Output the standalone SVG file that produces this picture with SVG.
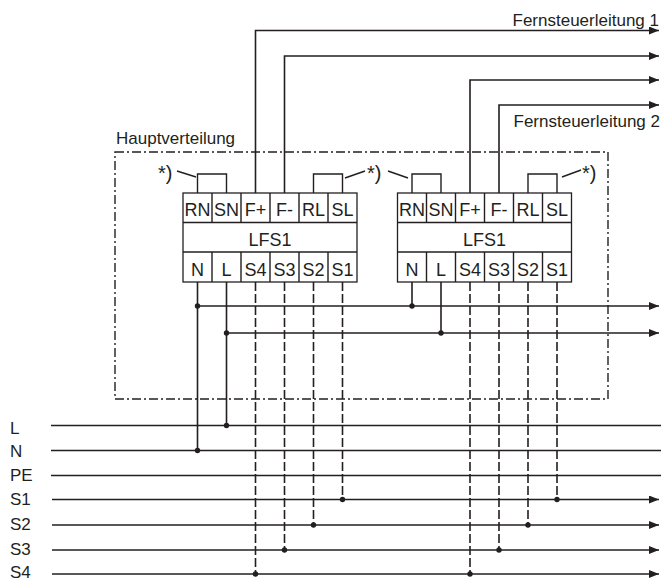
<svg xmlns="http://www.w3.org/2000/svg" width="661" height="581" viewBox="0 0 661 581">
<style>
text{font-family:"Liberation Sans",Arial,sans-serif;fill:#231f20}
.lbl{font-size:17px}
.note{font-size:20px}
.cell{font-size:18px;text-anchor:middle}
.box{fill:#fff;stroke:#231f20;stroke-width:1.3}
.w{fill:none;stroke:#231f20;stroke-width:1.6}
.d{fill:none;stroke:#231f20;stroke-width:1.6;stroke-dasharray:9 3}
.jp{fill:none;stroke:#231f20;stroke-width:1.4}
.dot{fill:#231f20}
</style>
<defs>
<marker id="arr" viewBox="0 0 10 8" refX="10" refY="4" markerWidth="10" markerHeight="8" markerUnits="userSpaceOnUse" orient="auto">
<path d="M0,0 L10,4 L0,8 z" fill="#231f20"/>
</marker>
<g id="lfs">
<rect class="box" x="0" y="0" width="174" height="89"/>
<line class="jp" x1="0" y1="29.5" x2="174" y2="29.5"/>
<line class="jp" x1="0" y1="59" x2="174" y2="59"/>
<path class="jp" d="M29,0V29.5M58,0V29.5M87,0V29.5M116,0V29.5M145,0V29.5M29,59V89M58,59V89M87,59V89M116,59V89M145,59V89"/>
<text class="cell" x="14.5" y="23">RN</text>
<text class="cell" x="43.5" y="23">SN</text>
<text class="cell" x="72.5" y="23">F+</text>
<text class="cell" x="101.5" y="23">F-</text>
<text class="cell" x="130.5" y="23">RL</text>
<text class="cell" x="159.5" y="23">SL</text>
<text class="cell" x="87" y="52.5">LFS1</text>
<text class="cell" x="14.5" y="83">N</text>
<text class="cell" x="43.5" y="83">L</text>
<text class="cell" x="72.5" y="83">S4</text>
<text class="cell" x="101.5" y="83">S3</text>
<text class="cell" x="130.5" y="83">S2</text>
<text class="cell" x="159.5" y="83">S1</text>
<path class="jp" d="M14.5,0V-19H43.5V0"/>
<path class="jp" d="M130.5,0V-19H159.5V0"/>
</g>
</defs>

<g id="hauptverteilung">
<rect x="115" y="152" width="493" height="247" fill="none" stroke="#231f20" stroke-width="1.4" stroke-dasharray="9 3 2 3"/>
<text class="lbl" x="116" y="144">Hauptverteilung</text>
</g>

<g id="connectors">
<path class="w" d="M255.5,193V30.5H659" marker-end="url(#arr)"/>
<path class="w" d="M284.5,193V56H659" marker-end="url(#arr)"/>
<path class="w" d="M470,193V80H659" marker-end="url(#arr)"/>
<path class="w" d="M499,193V105H659" marker-end="url(#arr)"/>
<path class="w" d="M197.5,306H659" marker-end="url(#arr)"/>
<path class="w" d="M226.5,333H659" marker-end="url(#arr)"/>
<path class="w" d="M197.5,282V450.5"/>
<path class="w" d="M226.5,282V425.5"/>
<path class="w" d="M412,282V306"/>
<path class="w" d="M441,282V333"/>
<path class="w" d="M51,425.5H661"/>
<path class="w" d="M51,450.5H661"/>
<path class="w" d="M51,475.5H661"/>
<path class="w" d="M52,499.5H659" marker-end="url(#arr)"/>
<path class="w" d="M52,525H659" marker-end="url(#arr)"/>
<path class="w" d="M52,550H659" marker-end="url(#arr)"/>
<path class="w" d="M52,574H659" marker-end="url(#arr)"/>
<path class="d" d="M255.5,282V574"/>
<path class="d" d="M284.5,282V550"/>
<path class="d" d="M313.5,282V525"/>
<path class="d" d="M342.5,282V499.5"/>
<path class="d" d="M470,282V574"/>
<path class="d" d="M499,282V550"/>
<path class="d" d="M528,282V525"/>
<path class="d" d="M557,282V499.5"/>
<circle class="dot" cx="197.5" cy="306" r="2.7"/>
<circle class="dot" cx="226.5" cy="333" r="2.7"/>
<circle class="dot" cx="412" cy="306" r="2.7"/>
<circle class="dot" cx="441" cy="333" r="2.7"/>
<circle class="dot" cx="197.5" cy="450.5" r="2.7"/>
<circle class="dot" cx="226.5" cy="425.5" r="2.7"/>
<circle class="dot" cx="342.5" cy="499.5" r="2.7"/>
<circle class="dot" cx="313.5" cy="525" r="2.7"/>
<circle class="dot" cx="284.5" cy="550" r="2.7"/>
<circle class="dot" cx="255.5" cy="574" r="2.7"/>
<circle class="dot" cx="557" cy="499.5" r="2.7"/>
<circle class="dot" cx="528" cy="525" r="2.7"/>
<circle class="dot" cx="499" cy="550" r="2.7"/>
<circle class="dot" cx="470" cy="574" r="2.7"/>
<path class="jp" d="M177,171L196,177"/>
<path class="jp" d="M345,178L365,171"/>
<path class="jp" d="M388,171L408,178"/>
<path class="jp" d="M562,177L581,170"/>
</g>

<g id="lfs1-left"><use href="#lfs" x="183" y="193"/></g>
<g id="lfs1-right"><use href="#lfs" x="397.5" y="193"/></g>

<g id="notes">
<text class="note" x="158" y="180">*)</text>
<text class="note" x="367" y="180">*)</text>
<text class="note" x="582" y="180">*)</text>
</g>

<g id="labels">
<text class="lbl" x="659" y="25.5" text-anchor="end">Fernsteuerleitung 1</text>
<text class="lbl" x="660" y="127" text-anchor="end">Fernsteuerleitung 2</text>
<text class="lbl" x="10" y="434">L</text>
<text class="lbl" x="10" y="457">N</text>
<text class="lbl" x="10" y="481">PE</text>
<text class="lbl" x="10" y="505">S1</text>
<text class="lbl" x="10" y="530">S2</text>
<text class="lbl" x="10" y="555">S3</text>
<text class="lbl" x="10" y="578">S4</text>
</g>
</svg>
